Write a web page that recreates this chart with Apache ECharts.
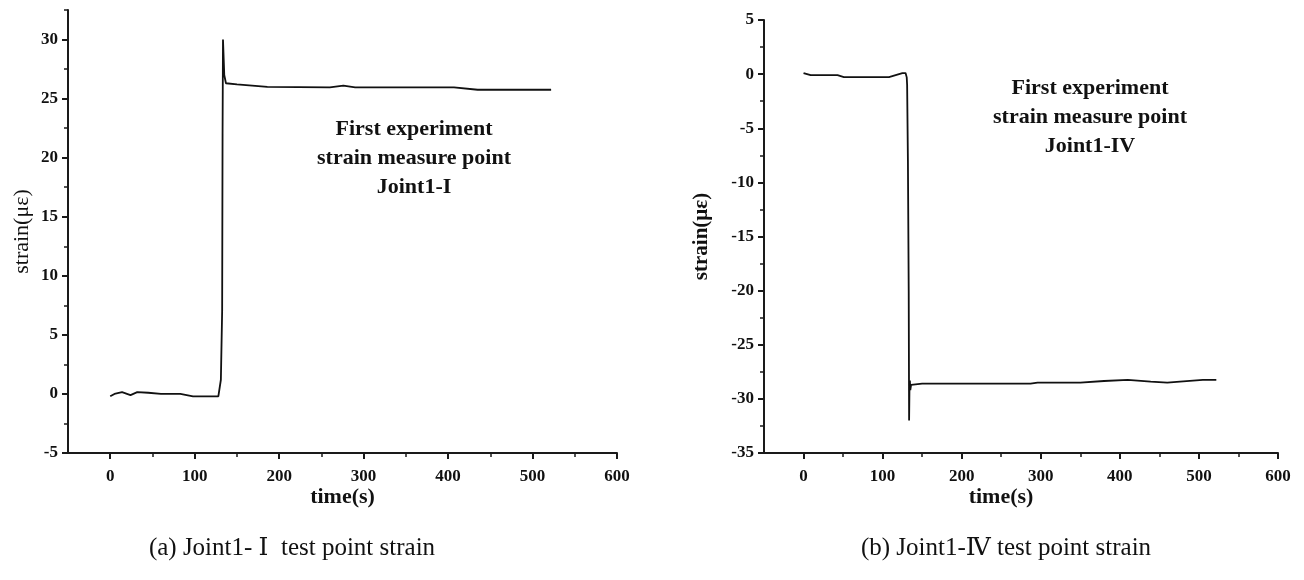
<!DOCTYPE html>
<html>
<head>
<meta charset="utf-8">
<script src="https://cdn.jsdelivr.net/npm/echarts@6/dist/echarts.min.js"></script>
<style>
html,body{margin:0;padding:0;background:#fff;}
#c{width:1304px;height:580px;}
</style>
</head>
<body>
<div id="c"></div>
<script>
// ---- data ----
const leftTime   = [0, 5, 14, 24, 32, 45, 60, 83, 98, 128, 131, 132.5, 133, 133.5, 134, 135, 137, 150, 186, 260, 276, 290, 407, 435, 522];
const leftStrain = [-0.2, 0, 0.15, -0.1, 0.15, 0.1, 0, 0, -0.2, -0.2, 1.2, 7, 22, 30, 29, 27, 26.3, 26.2, 26.0, 25.95, 26.1, 25.95, 25.95, 25.75, 25.75];
const rightTime   = [0, 9, 43, 51, 108, 125, 129, 130.5, 131, 132, 133, 133.5, 134, 134.5, 135, 136, 150, 287, 296, 350, 380, 410, 439, 460, 476, 505, 522];
const rightStrain = [0.1, -0.1, -0.1, -0.28, -0.28, 0.1, 0.1, -0.3, -1, -8, -20, -32, -28.7, -28.3, -29.2, -28.7, -28.6, -28.6, -28.5, -28.5, -28.35, -28.25, -28.4, -28.5, -28.4, -28.25, -28.25];
const xTickLabels = ['0', '100', '200', '300', '400', '500', '600'];
const xMinorTicks = [50, 150, 250, 350, 450, 550];
const leftYLabels = ['-5', '0', '5', '10', '15', '20', '25', '30'];
const leftYMinor = [-2.5, 2.5, 7.5, 12.5, 17.5, 22.5, 27.5, 32.5];
const rightYLabels = ['-35', '-30', '-25', '-20', '-15', '-10', '-5', '0', '5'];
const rightYMinor = [-32.5, -27.5, -22.5, -17.5, -12.5, -7.5, -2.5, 2.5];
const annotationLeft = ['First experiment', 'strain measure point', 'Joint1-I'];
const annotationRight = ['First experiment', 'strain measure point', 'Joint1-IV'];
const captions = ['(a) Joint1- Ⅰ  test point strain', '(b) Joint1-Ⅳ test point strain'];

const SERIF = '"Liberation Serif", "DejaVu Serif", serif';
const AX = '#1a1a1a';

function xAxis(gi, namePad) {
  return {
    type: 'value', gridIndex: gi, min: -50, max: 600,
    name: 'time(s)', nameLocation: 'middle', nameGap: 33, nameMoveOverlap: false,
    nameTextStyle: {fontFamily: SERIF, fontWeight: 'bold', fontSize: 22, color: '#111', padding: namePad},
    axisLine: {show: true, onZero: false, lineStyle: {color: AX, width: 2}},
    axisTick: {show: true, inside: false, length: 6, lineStyle: {color: AX, width: 2},
               customValues: xTickLabels.map(Number)},
    axisLabel: {fontFamily: SERIF, fontWeight: 'bold', fontSize: 17, color: '#111', margin: 15,
                customValues: xTickLabels.map(Number), formatter: v => String(v)},
    splitLine: {show: false}
  };
}
function minorX(gi) {
  return {
    type: 'value', gridIndex: gi, min: -50, max: 600, position: 'bottom',
    axisLine: {show: false, onZero: false},
    axisTick: {show: true, length: 4, lineStyle: {color: AX, width: 1.5}, customValues: xMinorTicks},
    axisLabel: {show: false}, splitLine: {show: false}
  };
}
function yAxis(gi, min, max, labels, minors, nameBold, nameSize, nameGap) {
  return [{
    type: 'value', gridIndex: gi, min: min, max: max,
    name: 'strain(με)', nameLocation: 'middle', nameGap: nameGap, nameRotate: 90,
    nameTextStyle: {fontFamily: SERIF, fontWeight: nameBold ? 'bold' : 'normal', fontSize: nameSize, color: '#111'},
    axisLine: {show: true, onZero: false, lineStyle: {color: AX, width: 2}},
    axisTick: {show: true, length: 6, lineStyle: {color: AX, width: 2}, customValues: labels.map(Number)},
    axisLabel: {fontFamily: SERIF, fontWeight: 'bold', fontSize: 17, color: '#111', margin: 10,
                customValues: labels.map(Number), formatter: v => String(v)},
    splitLine: {show: false}
  }, {
    type: 'value', gridIndex: gi, min: min, max: max, position: 'left',
    axisLine: {show: false, onZero: false},
    axisTick: {show: true, length: 4, lineStyle: {color: AX, width: 1.5}, customValues: minors},
    axisLabel: {show: false}, splitLine: {show: false}
  }];
}

function pairs(t, v) { return t.map((x, i) => [x, v[i]]); }

const leftY = yAxis(0, -5, 32.5, leftYLabels, leftYMinor, false, 22, 35);
const rightY = yAxis(1, -35, 5, rightYLabels, rightYMinor, true, 21, 52);

function textLines(lines, cx, y0, dy) {
  return lines.map((s, i) => ({
    type: 'text', x: cx, y: y0 + i * dy,
    style: {text: s, fill: '#111', font: 'bold 22px ' + SERIF, textAlign: 'center', textVerticalAlign: 'middle'}
  }));
}

const option = {
  animation: false,
  backgroundColor: '#fff',
  grid: [
    {left: 68, top: 10, width: 549, height: 443, outerBoundsMode: 'none'},
    {left: 764, top: 20, width: 514, height: 433, outerBoundsMode: 'none'}
  ],
  xAxis: [xAxis(0, [0, 0, 0, 0]), minorX(0), xAxis(1, [0, 40, 0, 0]), minorX(1)],
  yAxis: [leftY[0], leftY[1], rightY[0], rightY[1]],
  series: [
    {type: 'line', xAxisIndex: 0, yAxisIndex: 0, data: pairs(leftTime, leftStrain),
     showSymbol: false, lineStyle: {color: '#111', width: 1.8}},
    {type: 'line', xAxisIndex: 2, yAxisIndex: 2, data: pairs(rightTime, rightStrain),
     showSymbol: false, lineStyle: {color: '#111', width: 1.8}}
  ],
  graphic: [
    ...textLines(annotationLeft, 414, 129, 29),
    ...textLines(annotationRight, 1090, 88, 29),
    {type: 'text', x: 292, y: 548, style: {text: captions[0], fill: '#111', font: '25px ' + SERIF, textAlign: 'center', textVerticalAlign: 'middle'}},
    {type: 'text', x: 1006, y: 548, style: {text: captions[1], fill: '#111', font: '25px ' + SERIF, textAlign: 'center', textVerticalAlign: 'middle'}}
  ]
};

const chart = echarts.init(document.getElementById('c'));
chart.setOption(option);
</script>
</body>
</html>
